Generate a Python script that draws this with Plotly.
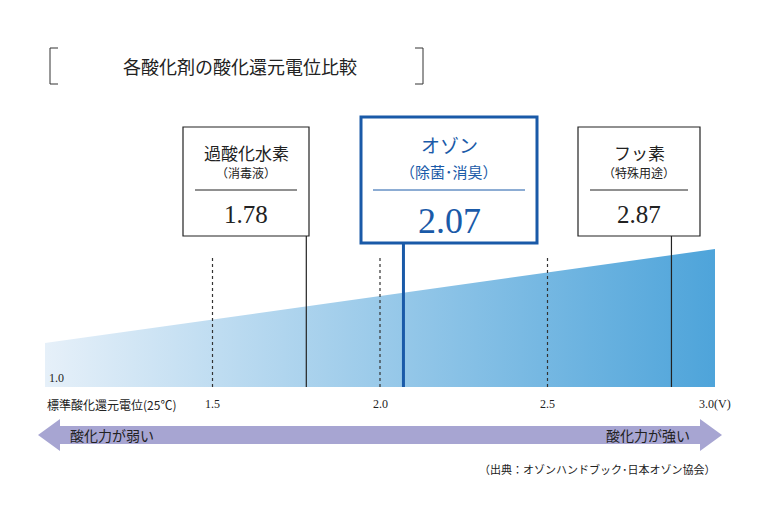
import plotly.graph_objects as go

# potentials (V)
tick_vals = [1.5, 2.0, 2.5]
tick_labels = ["1.5", "2.0", "2.5"]
agents = ["過酸化水素", "オゾン", "フッ素"]
uses = ["（消毒液）", "（除菌･消臭）", "（特殊用途）"]
potentials = [1.78, 2.07, 2.87]

W, H = 780, 523
OFF = 8  # page offset of the figure in the browser
# axis mapping: 1.0 -> 45 px, 3.0 -> 715 px (screen)
k = 335.0
x0 = 1 - (45 - OFF) / k
x1 = x0 + W / k
px = lambda p: x0 + (p - OFF) / k

JP = "Noto Sans CJK JP"
SERIF = "Liberation Serif"
BLUE = "#1a5aa8"
base = 387

fig = go.Figure()
fig.add_trace(go.Scatter(
    x=[1.0, 3.0, 3.0, 1.0, 1.0], y=[base, base, 249, 343, base],
    mode="lines", line=dict(width=0), fill="toself",
    fillgradient=dict(type="horizontal",
                      colorscale=[[0, "#e6f0f9"], [1, "#4ea4da"]]),
    hoverinfo="skip", showlegend=False))

# dotted guide lines
for v in tick_vals:
    fig.add_trace(go.Scatter(x=[v, v], y=[258, base], mode="lines",
                             line=dict(color="#333", width=1.2, dash="dot"),
                             showlegend=False, hoverinfo="skip"))

boxes = [(183, 309, 127, 236), (361, 537, 117, 243), (578, 700, 127, 236)]
for i, (a, b, t, bt) in enumerate(boxes):
    ozone = i == 1
    col = BLUE if ozone else "#222"
    fig.add_trace(go.Scatter(x=[potentials[i]] * 2, y=[bt, base], mode="lines",
                             line=dict(color=col, width=3 if ozone else 1.2),
                             showlegend=False, hoverinfo="skip"))
    fig.add_shape(type="rect", x0=px(a), x1=px(b), y0=t, y1=bt,
                  line=dict(color=col, width=3 if ozone else 1.2), fillcolor="white")
    mid = px((a + b) / 2)
    sep = t + (73 if ozone else 63)
    fig.add_shape(type="line", x0=px(a + 12), x1=px(b - 12), y0=sep, y1=sep,
                  line=dict(color=col, width=1))
    fig.add_annotation(x=mid, y=t + (27 if ozone else 25), text=agents[i], showarrow=False,
                       font=dict(family=JP, size=19 if ozone else 17, color=col))
    fig.add_annotation(x=mid, y=t + (54 if ozone else 45), text=uses[i], showarrow=False,
                       font=dict(family=JP, size=15 if ozone else 12, color=col))
    fig.add_annotation(x=mid, y=t + (104 if ozone else 87), text=f"{potentials[i]:.2f}",
                       showarrow=False,
                       font=dict(family=SERIF, size=36 if ozone else 25, color=col))

# axis labels
fig.add_annotation(x=px(47), y=378, text="1.0", showarrow=False, xanchor="left",
                   font=dict(family=SERIF, size=12, color="#222"))
fig.add_annotation(x=px(45), y=404, text="標準酸化還元電位(25℃)", showarrow=False,
                   xanchor="left", font=dict(family=JP, size=12, color="#222"))
for v, t in zip(tick_vals, tick_labels):
    fig.add_annotation(x=v, y=404, text=t, showarrow=False,
                       font=dict(family=SERIF, size=12, color="#222"))
fig.add_annotation(x=3.0, y=404, text="3.0(V)", showarrow=False,
                   font=dict(family=SERIF, size=12, color="#222"))

# arrow band
arrow = (f"M {px(38)},435 L {px(60)},419 L {px(60)},426 L {px(700)},426 L {px(700)},419 "
         f"L {px(722)},435 L {px(700)},451 L {px(700)},444 L {px(60)},444 L {px(60)},451 Z")
fig.add_shape(type="path", path=arrow, fillcolor="#a7a5d2", line=dict(width=0))
fig.add_annotation(x=px(68), y=435, text="酸化力が弱い", showarrow=False, xanchor="left",
                   font=dict(family=JP, size=14, color="#222"))
fig.add_annotation(x=px(692), y=435, text="酸化力が強い", showarrow=False, xanchor="right",
                   font=dict(family=JP, size=14, color="#222"))

# title with brackets
fig.add_annotation(x=px(240), y=66, text="各酸化剤の酸化還元電位比較", showarrow=False,
                   font=dict(family=JP, size=18, color="#222"))
for p, d in [(50, 1), (423, -1)]:
    fig.add_shape(type="path",
                  path=f"M {px(p + 8*d)},48 L {px(p)},48 L {px(p)},84 L {px(p + 8*d)},84",
                  line=dict(color="#333", width=1))

fig.add_annotation(x=px(718), y=469, text="（出典：オゾンハンドブック･日本オゾン協会）",
                   showarrow=False, xanchor="right", font=dict(family=JP, size=11, color="#222"))

fig.update_layout(
    width=W, height=H, margin=dict(l=0, r=0, t=0, b=0),
    plot_bgcolor="white", paper_bgcolor="white",
    xaxis=dict(range=[x0, x1], visible=False, fixedrange=True),
    yaxis=dict(range=[H + OFF, OFF], visible=False, fixedrange=True),
)
fig.write_html("out.html")
